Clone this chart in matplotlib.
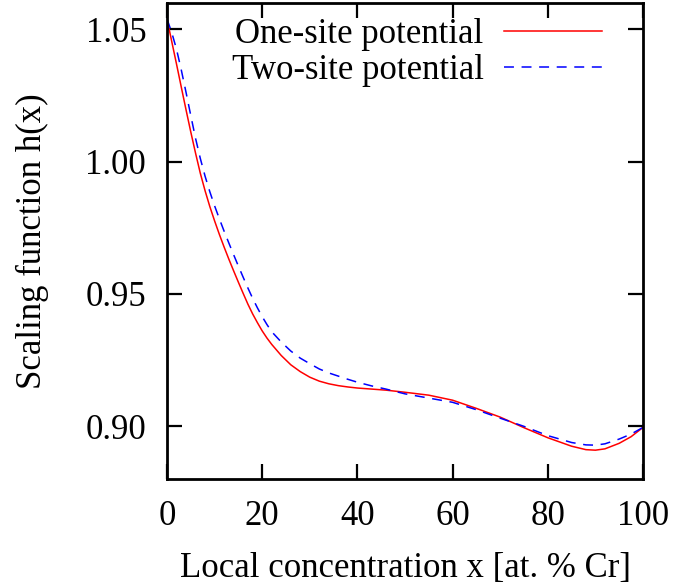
import matplotlib
matplotlib.use("Agg")
import matplotlib.pyplot as plt

plt.rcParams['font.family'] = ['Liberation Serif', 'DejaVu Serif']

x_vals = [0, 1, 2, 3, 4, 5, 6, 7, 8, 9, 10, 11, 12, 13, 14, 15, 16, 17, 18, 19, 20,
          21, 22, 24, 26, 28, 30, 32, 34, 36, 38, 40, 43, 46, 50, 55, 60, 65, 70, 75,
          80, 85, 88, 90, 92, 95, 97.5, 100]
one_site = [1.054, 1.0454, 1.0369, 1.0282, 1.0196, 1.0112, 1.0032, 0.9956, 0.9890,
            0.9830, 0.9776, 0.9725, 0.9677, 0.9631, 0.9587, 0.9544, 0.9502, 0.9461,
            0.9424, 0.9391, 0.9360, 0.9333, 0.9309, 0.9267, 0.9232, 0.9206, 0.9185,
            0.9170, 0.9160, 0.9153, 0.9148, 0.9144, 0.9140, 0.9136, 0.9128, 0.9117,
            0.9098, 0.9067, 0.9034, 0.8994, 0.8956, 0.8924, 0.8911, 0.8909, 0.8914,
            0.8935, 0.8960, 0.8995]
two_site = [1.054, 1.0488, 1.0425, 1.0347, 1.0262, 1.0174, 1.0088, 1.0012, 0.9945,
            0.9886, 0.9833, 0.9784, 0.9737, 0.9692, 0.9648, 0.9605, 0.9563, 0.9522,
            0.9483, 0.9447, 0.9414, 0.9384, 0.9357, 0.9318, 0.9284, 0.9257, 0.9236,
            0.9216, 0.9201, 0.9189, 0.9177, 0.9166, 0.9152, 0.9140, 0.9122, 0.9106,
            0.9090, 0.9062, 0.9030, 0.8999, 0.8964, 0.8938, 0.8929, 0.8928, 0.8933,
            0.8951, 0.8970, 0.8995]
labels = ["One-site potential", "Two-site potential"]
x_ticks = [0, 20, 40, 60, 80, 100]
y_ticks = [0.90, 0.95, 1.00, 1.05]

fig = plt.figure(figsize=(6.73, 5.87), dpi=100)
ax = fig.add_axes([167/673, 1 - 479/587, (643 - 167)/673, (479 - 3)/587])

ax.plot(x_vals, one_site, color='#ff0000', lw=1.1, label=labels[0])
ax.plot(x_vals, two_site, color='#0000ff', lw=1.1, linestyle=(0, (6.5, 5)), label=labels[1])

ax.set_xlim(0, 100)
ax.set_ylim(0.88, 1.06)
ax.set_xticks(x_ticks)
ax.set_xticklabels([str(t) for t in x_ticks])
ax.set_yticks(y_ticks)
ax.set_yticklabels([f"{t:.2f}" for t in y_ticks])

for s in ax.spines.values():
    s.set_linewidth(2.0)
ax.tick_params(direction='in', length=11, width=1.6, labelsize=25,
               top=True, right=True)
ax.tick_params(axis='x', pad=15)
ax.tick_params(axis='y', pad=15)

ax.set_xlabel("Local concentration x [at. % Cr]", fontsize=25, labelpad=14)
ax.set_ylabel("Scaling function h(x)", fontsize=25, labelpad=26)

ax.legend(loc='upper right', bbox_to_anchor=(0.935, 0.99), frameon=False,
          markerfirst=False, fontsize=25, handlelength=2.8, handletextpad=0.6,
          labelspacing=0.09, borderaxespad=0.0, borderpad=0.3)

fig.savefig("out.png", dpi=100)
